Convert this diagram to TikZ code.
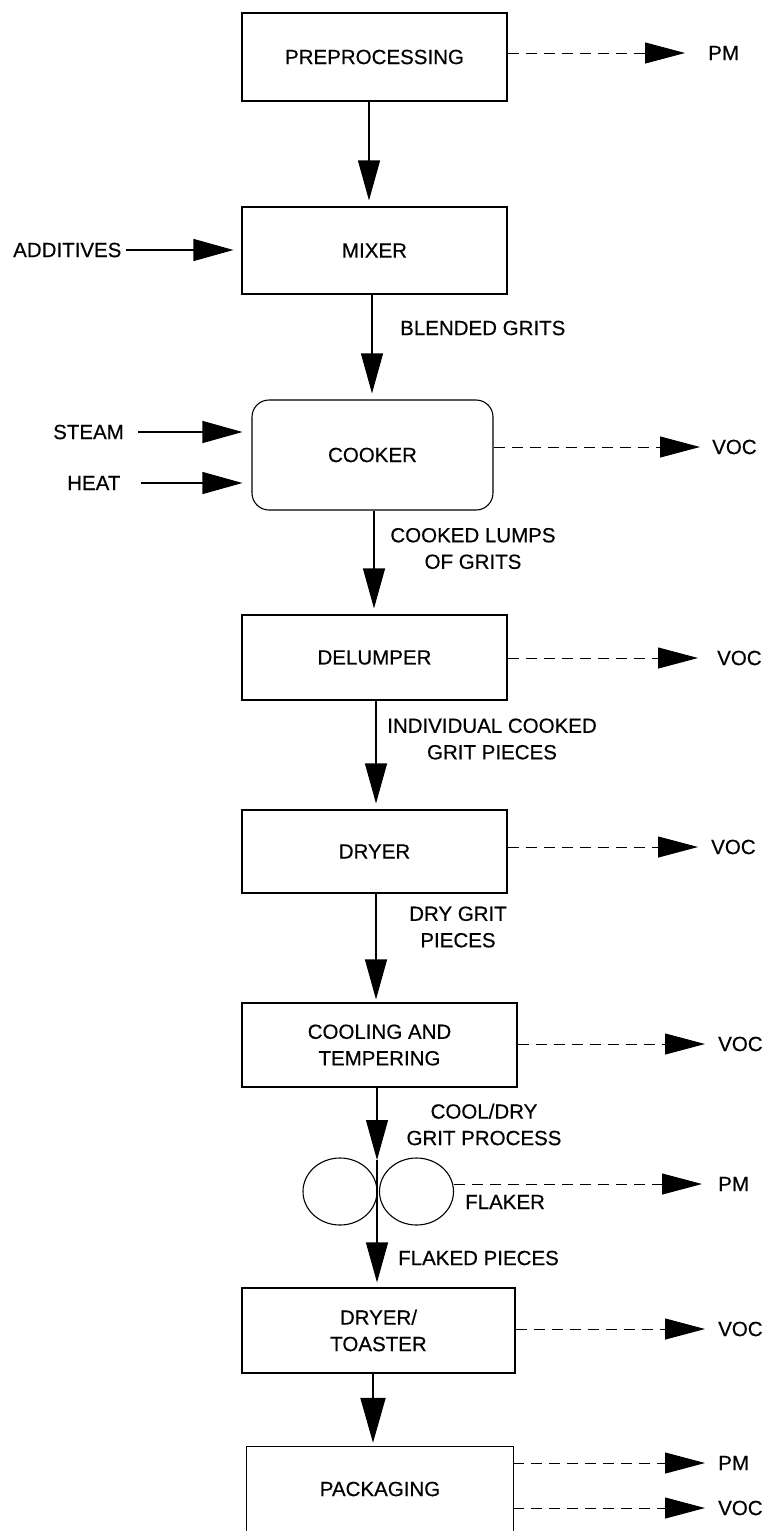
\documentclass[tikz,border=0pt]{standalone}
\usepackage{fontspec}
\setmainfont{Liberation Sans}
\newfontfamily\dfont{Liberation Sans}[FakeBold=0.4]
\usetikzlibrary{arrows.meta,shapes.geometric}
\begin{document}
\begin{tikzpicture}[x=1pt,y=-1pt,
  every node/.style={font=\dfont\fontsize{20.5}{26.5}\selectfont, inner sep=0pt},
  box/.style={draw, line width=1.1pt, align=center},
  lbl/.style={align=center},
  flow/.style={line width=1.1pt, -{Triangle[length=40pt,width=22pt]}, shorten >=6pt},
  emit/.style={line width=1pt, dash pattern=on 11pt off 7pt, -{Triangle[length=40pt,width=21pt]}},
  roll/.style={draw, ellipse, line width=1.1pt, minimum width=74pt, minimum height=67pt}
]
\useasboundingbox (0,0) rectangle (773,1531);

% process boxes
\node[box, minimum width=265pt, minimum height=88pt] (pre) at (374.5,57) {PREPROCESSING};
\node[box, minimum width=265pt, minimum height=87pt] (mix) at (374.5,250.5) {MIXER};
\node[box, rounded corners=17pt, minimum width=241pt, minimum height=110pt] (cook) at (372.5,455) {COOKER};
\node[box, minimum width=265pt, minimum height=85pt] (del) at (374.5,657.5) {DELUMPER};
\node[box, minimum width=265pt, minimum height=83pt] (dry) at (374.5,851.5) {DRYER};
\node[box, minimum width=275pt, minimum height=84pt] (cool) at (379.5,1045) {COOLING AND\\TEMPERING};
\node[roll] (fl1) at (340,1191.5) {};
\node[roll] (fl2) at (416.5,1191.5) {};
\node[box, minimum width=273pt, minimum height=85pt] (dt) at (378.5,1330.5) {DRYER/\\TOASTER};
\node[align=center, minimum width=266pt, minimum height=84pt] (pk) at (380,1489) {PACKAGING};
\draw[line width=1.1pt] (pk.south west) -- (pk.north west) -- (pk.north east) -- (pk.south east);

% inputs
\node[anchor=west] (add) at (13,250) {ADDITIVES};
\draw[flow, shorten <=4pt, shorten >=8pt] (add.east) -- (mix.west |- add.east);
\node[anchor=west] (stm) at (53,432) {STEAM};
\draw[flow, shorten <=14pt, shorten >=9pt] (stm.east) -- (cook.west |- stm.east);
\node[anchor=west] (heat) at (67,483) {HEAT};
\draw[flow, shorten <=20pt, shorten >=9pt] (heat.east) -- (cook.west |- heat.east);

% main flow
\coordinate (c1) at (369,0);
\coordinate (c2) at (372,0);
\coordinate (c3) at (374,0);
\coordinate (c4) at (376,0);
\coordinate (c5) at (373,0);
\coordinate (nip) at (377,1160);
\draw[flow] (pre.south -| c1) -- (mix.north -| c1);
\draw[flow] (mix.south -| c2) -- (cook.north -| c2);
\draw[flow] (cook.south -| c3) -- (del.north -| c3);
\draw[flow] (del.south -| c4) -- (dry.north -| c4);
\draw[flow, shorten >=3pt] (dry.south -| c4) -- (cool.north -| c4);
\draw[flow, shorten >=0pt] (cool.south -| nip) -- (nip);
\draw[flow, shorten >=5pt] (nip) -- (dt.north -| nip);
\draw[line width=2pt, -{Triangle[length=45pt,width=25pt]}, shorten >=4pt] (dt.south -| c5) -- (pk.north -| c5);

% flow labels
\node[anchor=west] (bg) at (400,328) {BLENDED GRITS};
\node[lbl] (cl) at (473,548.5) {COOKED LUMPS\\OF GRITS};
\node[lbl] (ic) at (492,739) {INDIVIDUAL COOKED\\GRIT PIECES};
\node[lbl] (dg) at (458,927) {DRY GRIT\\PIECES};
\node[lbl] (cd) at (484,1124.5) {COOL/DRY\\GRIT PROCESS};
\node[anchor=west] (fk) at (465,1202) {FLAKER};
\node[anchor=west] (fp) at (398,1258) {FLAKED PIECES};

% emissions
\node[anchor=west] (o1) at (708,53) {PM};
\draw[emit, shorten >=23pt] (pre.east |- o1.west) -- (o1.west);
\node[anchor=west] (o2) at (712,447) {VOC};
\draw[emit, shorten >=12pt] (cook.east |- o2.west) -- (o2.west);
\node[anchor=west] (o3) at (717,658) {VOC};
\draw[emit, shorten >=19pt] (del.east |- o3.west) -- (o3.west);
\node[anchor=west] (o4) at (711,847) {VOC};
\draw[emit, shorten >=13pt] (dry.east |- o4.west) -- (o4.west);
\node[anchor=west] (o5) at (718,1044) {VOC};
\draw[emit, shorten >=13pt] (cool.east |- o5.west) -- (o5.west);
\node[anchor=west] (o6) at (718,1184) {PM};
\draw[emit, shorten >=16pt] (fl2.east |- o6.west) -- (o6.west);
\node[anchor=west] (o7) at (718,1329) {VOC};
\draw[emit, shorten >=13pt] (dt.east |- o7.west) -- (o7.west);
\node[anchor=west] (o8) at (718,1463) {PM};
\draw[emit, shorten >=13pt] (pk.east |- o8.west) -- (o8.west);
\node[anchor=west] (o9) at (718,1508) {VOC};
\draw[emit, shorten >=13pt] (pk.east |- o9.west) -- (o9.west);
\end{tikzpicture}
\end{document}
